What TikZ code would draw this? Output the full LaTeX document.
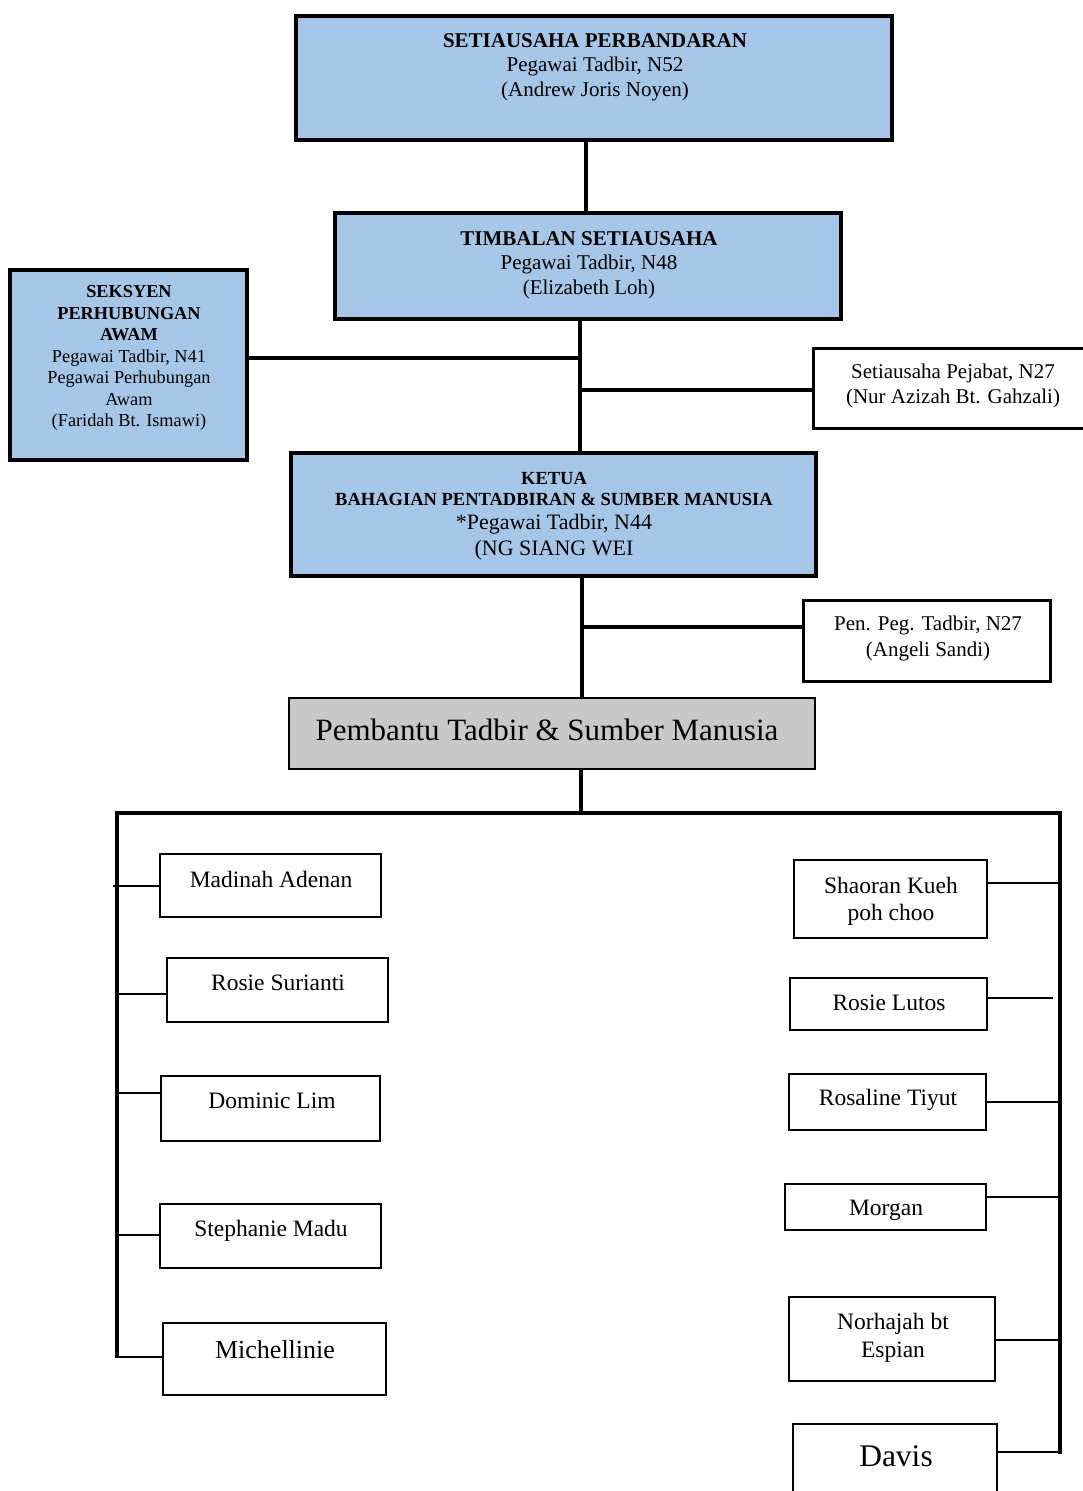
\documentclass[tikz,border=0pt]{standalone}
\usepackage{fontspec}
\setmainfont{Liberation Serif}
\definecolor{boxblue}{RGB}{166,198,232}
\definecolor{boxgray}{RGB}{200,200,200}
\newcommand{\fs}[2]{\fontsize{#1}{#2}\selectfont}
\begin{document}
\begin{tikzpicture}[x=1pt,y=-1pt,
  every node/.style={inner sep=0pt,outer sep=0pt},
  bluebox/.style={draw,line width=4.5pt,fill=boxblue},
  wbox/.style={draw,line width=3pt,fill=white},
  nbox/.style={draw,line width=1.6pt,fill=white},
  graybox/.style={draw,line width=1.8pt,fill=boxgray},
  txt/.style={align=center},
  conn/.style={line width=3.5pt},
  stub/.style={line width=1.8pt}]
\useasboundingbox[fill=white] (0,0) rectangle (1083,1491);

% boxes
\node[bluebox,minimum width=596pt,minimum height=124pt] (top) at (594,78) {};
\node[txt,font=\fs{21}{24.5}] (top-t) at (595,67) {\textbf{SETIAUSAHA PERBANDARAN}\\Pegawai Tadbir, N52\\(Andrew Joris Noyen)};

\node[bluebox,minimum width=506pt,minimum height=106pt] (timb) at (588,266) {};
\node[txt,font=\fs{21}{24.5}] (timb-t) at (589,265) {\textbf{TIMBALAN SETIAUSAHA}\\Pegawai Tadbir, N48\\(Elizabeth Loh)};

\node[bluebox,minimum width=237pt,minimum height=190pt] (seks) at (128.5,365) {};
\node[txt,font=\fs{18.3}{21.5}] (seks-t) at (129,358) {\textbf{SEKSYEN}\\\textbf{PERHUBUNGAN}\\\textbf{AWAM}\\Pegawai Tadbir, N41\\Pegawai Perhubungan\\Awam\\(Faridah Bt. Ismawi)};

\node[wbox,minimum width=276pt,minimum height=80pt] (sp) at (951,388.5) {};
\node[txt,font=\fs{21}{25}] (sp-t) at (953,386) {Setiausaha Pejabat, N27\\(Nur Azizah Bt. Gahzali)};

\node[bluebox,minimum width=525pt,minimum height=123pt] (ketua) at (553.5,514.5) {};
\node[txt,font=\fs{18.5}{20.5}\bfseries] (ketua-t1) at (554,489) {KETUA\\BAHAGIAN PENTADBIRAN \& SUMBER MANUSIA};
\node[txt,font=\fs{22}{25.5}] (ketua-t2) at (554,537) {*Pegawai Tadbir, N44\\(NG SIANG WEI};

\node[wbox,minimum width=247pt,minimum height=81pt] (pen) at (926.5,640.5) {};
\node[txt,font=\fs{21}{25.5}] (pen-t) at (928,638.5) {Pen. Peg. Tadbir, N27\\(Angeli Sandi)};

\node[graybox,minimum width=526pt,minimum height=71pt] (pem) at (552,733.5) {};
\node[txt,font=\fs{31}{36}] (pem-t) at (547,730) {Pembantu Tadbir \& Sumber Manusia};

% left column
\node[nbox,minimum width=221pt,minimum height=63pt] (mad) at (270.5,885.5) {};
\node[txt,font=\fs{23.5}{27}] (mad-t) at (271,879) {Madinah Adenan};
\node[nbox,minimum width=221pt,minimum height=64pt] (ros) at (277.5,990) {};
\node[txt,font=\fs{23.5}{27}] (ros-t) at (278,983) {Rosie Surianti};
\node[nbox,minimum width=219pt,minimum height=65pt] (dom) at (270.5,1108.5) {};
\node[txt,font=\fs{23.5}{27}] (dom-t) at (272,1101) {Dominic Lim};
\node[nbox,minimum width=221pt,minimum height=64pt] (ste) at (270.5,1236) {};
\node[txt,font=\fs{23.5}{27}] (ste-t) at (271,1231) {Stephanie Madu};
\node[nbox,minimum width=223pt,minimum height=72pt] (mic) at (274.5,1359) {};
\node[txt,font=\fs{26}{30}] (mic-t) at (275,1350) {Michellinie};

% right column
\node[nbox,minimum width=193pt,minimum height=78pt] (sha) at (890.5,899) {};
\node[txt,font=\fs{23.5}{27}] (sha-t) at (891,901) {Shaoran Kueh\\poh choo};
\node[nbox,minimum width=197pt,minimum height=52pt] (rlu) at (888.5,1004) {};
\node[txt,font=\fs{23.5}{27}] (rlu-t) at (889,1003) {Rosie Lutos};
\node[nbox,minimum width=197pt,minimum height=56pt] (rti) at (887.5,1102) {};
\node[txt,font=\fs{23.5}{27}] (rti-t) at (888,1100) {Rosaline Tiyut};
\node[nbox,minimum width=201pt,minimum height=46pt] (mor) at (885.5,1207) {};
\node[txt,font=\fs{23.5}{27}] (mor-t) at (886,1210) {Morgan};
\node[nbox,minimum width=206pt,minimum height=84pt] (nor) at (892,1339) {};
\node[txt,font=\fs{23.5}{28}] (nor-t) at (893,1338) {Norhajah bt\\Espian};
\node[nbox,minimum width=204pt,minimum height=76pt] (dav) at (895,1462) {};
\node[txt,font=\fs{31.5}{36}] (dav-t) at (896,1456) {Davis};

% spine coordinates
\coordinate (s1) at (586,0);
\coordinate (s2) at (580,0);
\coordinate (s3) at (582,0);
\coordinate (s4) at (581,0);
\coordinate (j1) at (580,358);
\coordinate (j2) at (580,390);
\coordinate (j3) at (582,627);
\coordinate (barL) at (117,813);
\coordinate (barR) at (1060,813);
\coordinate (lbot) at (117,1358);
\coordinate (rbot) at (1060,1454);

% main connectors
\draw[conn] (top.south -| s1) -- (timb.north -| s1);
\draw[conn] (timb.south -| s2) -- (ketua.north -| s2);
\draw[conn] (j1) -- (seks.east |- j1);
\draw[conn] (j2) -- (sp.west |- j2);
\draw[conn] (ketua.south -| s3) -- (pem.north -| s3);
\draw[conn] (j3) -- (pen.west |- j3);
\draw[conn] (pem.south -| s4) -- (barL -| s4);
\draw[conn] (lbot) -- (barL) -- (barR) -- (rbot);

% stub heights
\coordinate (ya) at (0,886);
\coordinate (yb) at (0,994);
\coordinate (yc) at (0,1093);
\coordinate (yd) at (0,1235);
\coordinate (ye) at (0,1357);
\coordinate (yf) at (0,883);
\coordinate (yg) at (0,998);
\coordinate (yh) at (0,1102);
\coordinate (yi) at (0,1197);
\coordinate (yj) at (0,1340);
\coordinate (yk) at (0,1452);

% left stubs
\draw[stub] (mad.west |- ya) -- ([xshift=-4pt]barL |- ya);
\draw[stub] (ros.west |- yb) -- (barL |- yb);
\draw[stub] (dom.west |- yc) -- (barL |- yc);
\draw[stub] (ste.west |- yd) -- (barL |- yd);
\draw[stub] (mic.west |- ye) -- (barL |- ye);
% right stubs
\draw[stub] (sha.east |- yf) -- (barR |- yf);
\draw[stub] (rlu.east |- yg) -- ([xshift=-7pt]barR |- yg);
\draw[stub] (rti.east |- yh) -- (barR |- yh);
\draw[stub] (mor.east |- yi) -- (barR |- yi);
\draw[stub] (nor.east |- yj) -- (barR |- yj);
\draw[stub] (dav.east |- yk) -- (barR |- yk);
\end{tikzpicture}
\end{document}
